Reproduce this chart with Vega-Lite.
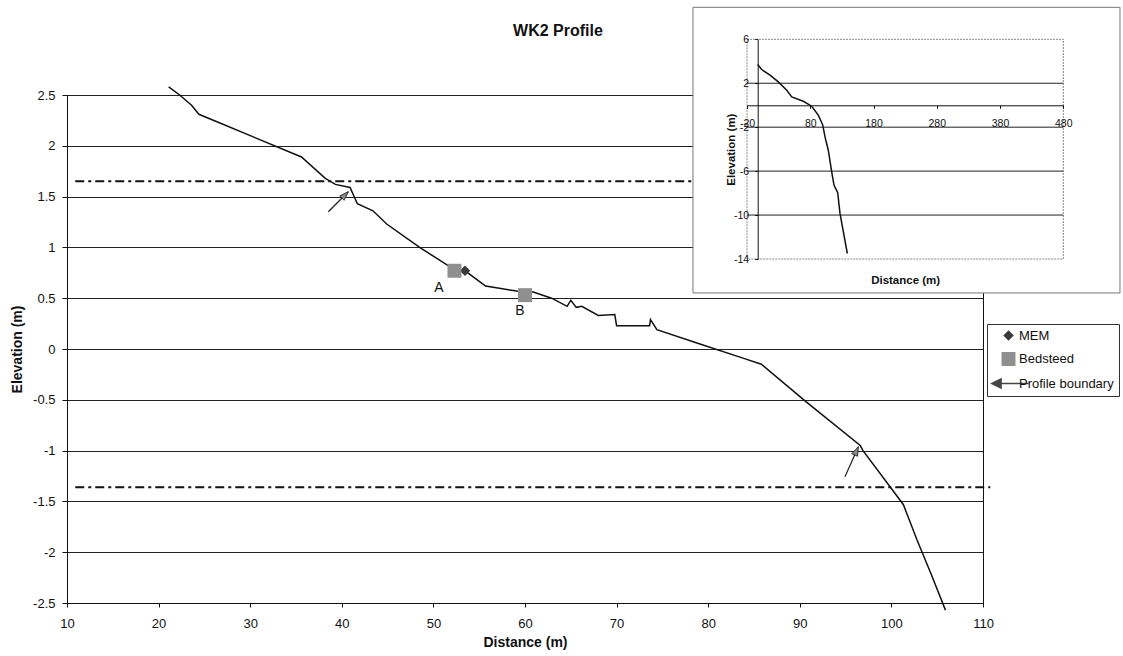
{
  "$schema": "https://vega.github.io/schema/vega-lite/v6.json",
  "width": 916,
  "height": 508,
  "autosize": {"type": "none"},
  "padding": {"left": 67, "top": 95, "right": 140, "bottom": 53},
  "background": "white",
  "config": {
    "font": "Liberation Sans",
    "view": {"stroke": "#111", "strokeWidth": 1},
    "axis": {"labelColor": "#111", "titleColor": "#111", "domainColor": "#111", "tickColor": "#111", "labelFont": "Liberation Sans", "titleFont": "Liberation Sans"}
  },
  "title": {"text": "WK2 Profile", "fontSize": 16, "fontWeight": "bold", "font": "Liberation Sans", "color": "#111", "anchor": "middle", "dx": 33, "offset": -32},
  "datasets": {
    "profile": [
      {"distance": 21.1, "elevation": 2.58}, {"distance": 22.3, "elevation": 2.5}, {"distance": 23.6, "elevation": 2.4},
      {"distance": 24.4, "elevation": 2.31}, {"distance": 35.6, "elevation": 1.89}, {"distance": 38.2, "elevation": 1.68},
      {"distance": 39.3, "elevation": 1.62}, {"distance": 40.9, "elevation": 1.59}, {"distance": 41.7, "elevation": 1.43},
      {"distance": 43.4, "elevation": 1.36}, {"distance": 44.9, "elevation": 1.23}, {"distance": 48.5, "elevation": 1.0},
      {"distance": 51.1, "elevation": 0.85}, {"distance": 52.5, "elevation": 0.77}, {"distance": 53.6, "elevation": 0.76},
      {"distance": 55.7, "elevation": 0.62}, {"distance": 59.1, "elevation": 0.57}, {"distance": 60.9, "elevation": 0.56},
      {"distance": 62.9, "elevation": 0.5}, {"distance": 64.6, "elevation": 0.42}, {"distance": 65.0, "elevation": 0.48},
      {"distance": 65.6, "elevation": 0.41}, {"distance": 66.2, "elevation": 0.42}, {"distance": 68.0, "elevation": 0.33},
      {"distance": 69.8, "elevation": 0.34}, {"distance": 70.0, "elevation": 0.23}, {"distance": 73.6, "elevation": 0.23},
      {"distance": 73.7, "elevation": 0.29}, {"distance": 74.4, "elevation": 0.19}, {"distance": 79.1, "elevation": 0.05},
      {"distance": 83.8, "elevation": -0.09}, {"distance": 85.8, "elevation": -0.15}, {"distance": 90.7, "elevation": -0.52},
      {"distance": 96.6, "elevation": -0.95}, {"distance": 96.9, "elevation": -1.0}, {"distance": 101.3, "elevation": -1.53},
      {"distance": 102.8, "elevation": -1.88}, {"distance": 104.4, "elevation": -2.23}, {"distance": 105.9, "elevation": -2.57}
    ],
    "levels": [{"level": 1.65}, {"level": -1.36}],
    "markers": [
      {"series": "MEM", "distance": 53.45, "elevation": 0.77},
      {"series": "Bedsteed", "distance": 52.3, "elevation": 0.77},
      {"series": "Bedsteed", "distance": 60.0, "elevation": 0.53}
    ],
    "labels": [
      {"label": "A", "distance": 50.6, "elevation": 0.6},
      {"label": "B", "distance": 59.45, "elevation": 0.374}
    ],
    "arrows": [
      {"id": 1, "x1": 38.53, "y1": 1.351, "x2": 40.71, "y2": 1.548},
      {"id": 2, "x1": 94.93, "y1": -1.257, "x2": 96.39, "y2": -0.962}
    ],
    "inset": [
      {"dist": -3.1, "elev": 3.7}, {"dist": 3.2, "elev": 3.25}, {"dist": 16.4, "elev": 2.73}, {"dist": 29.5, "elev": 2.12},
      {"dist": 42.8, "elev": 1.36}, {"dist": 50.7, "elev": 0.76}, {"dist": 69.0, "elev": 0.36}, {"dist": 82.3, "elev": -0.09},
      {"dist": 92.7, "elev": -0.9}, {"dist": 99.7, "elev": -1.8}, {"dist": 103.3, "elev": -2.88}, {"dist": 108.5, "elev": -4.1},
      {"dist": 113.9, "elev": -6.06}, {"dist": 117.5, "elev": -7.27}, {"dist": 123.4, "elev": -7.97}, {"dist": 127.0, "elev": -9.85},
      {"dist": 138.6, "elev": -13.5}
    ],
    "insetGrid": [{"g": 2}, {"g": -2}, {"g": -6}, {"g": -10}]
  },
  "layer": [
    {
      "layer": [
        {
          "data": {"name": "profile"},
          "mark": {"type": "line", "color": "#111", "strokeWidth": 1.5},
          "encoding": {
            "x": {
              "field": "distance", "type": "quantitative",
              "scale": {"domain": [10, 110], "nice": false, "zero": false},
              "axis": {"values": [10, 20, 30, 40, 50, 60, 70, 80, 90, 100, 110], "title": "Distance (m)", "grid": false, "tickSize": 4, "labelFontSize": 13, "labelPadding": 10, "labelFlush": false, "titleFontSize": 14, "titleFontWeight": "bold", "titleY": 39, "titleBaseline": "middle"}
            },
            "y": {
              "field": "elevation", "type": "quantitative",
              "scale": {"domain": [-2.5, 2.5], "nice": false, "zero": false},
              "axis": {"values": [-2.5, -2, -1.5, -1, -0.5, 0, 0.5, 1, 1.5, 2, 2.5], "labelExpr": "'' + datum.value", "title": "Elevation (m)", "grid": true, "gridColor": "#222", "gridWidth": 1, "tickSize": 5, "labelPadding": 7, "labelFontSize": 13, "titleFontSize": 14, "titleFontWeight": "bold", "titleX": -50, "titleBaseline": "middle"}
            }
          }
        },
        {
          "data": {"name": "levels"},
          "mark": {"type": "rule", "color": "#111", "strokeWidth": 2, "strokeDash": [9, 4, 3, 4]},
          "encoding": {
            "x": {"datum": 10.9, "type": "quantitative"},
            "x2": {"datum": 110.8},
            "y": {"field": "level", "type": "quantitative"}
          }
        },
        {
          "data": {"name": "arrows"},
          "mark": {"type": "rule", "color": "#222", "strokeWidth": 1.2},
          "encoding": {
            "x": {"field": "x1", "type": "quantitative"},
            "y": {"field": "y1", "type": "quantitative"},
            "x2": {"field": "x2"},
            "y2": {"field": "y2"}
          }
        },
        {
          "data": {"name": "arrows"},
          "transform": [{"filter": "datum.id == 1"}],
          "mark": {"type": "point", "shape": "M0,0L-0.35,1L0.35,1Z", "filled": true, "fill": "#8a8a8a", "stroke": "#222", "strokeWidth": 0.8, "opacity": 1, "size": 324, "angle": 45},
          "encoding": {
            "x": {"field": "x2", "type": "quantitative"},
            "y": {"field": "y2", "type": "quantitative"}
          }
        },
        {
          "data": {"name": "arrows"},
          "transform": [{"filter": "datum.id == 2"}],
          "mark": {"type": "point", "shape": "M0,0L-0.35,1L0.35,1Z", "filled": true, "fill": "#8a8a8a", "stroke": "#222", "strokeWidth": 0.8, "opacity": 1, "size": 324, "angle": 24},
          "encoding": {
            "x": {"field": "x2", "type": "quantitative"},
            "y": {"field": "y2", "type": "quantitative"}
          }
        },
        {
          "data": {"name": "markers"},
          "mark": {"type": "point", "filled": true, "opacity": 1, "strokeWidth": 0},
          "encoding": {
            "x": {"field": "distance", "type": "quantitative"},
            "y": {"field": "elevation", "type": "quantitative"},
            "color": {
              "field": "series", "type": "nominal",
              "scale": {"domain": ["MEM", "Bedsteed", "Profile boundary"], "range": ["#3a3a3a", "#8f8f8f", "#444444"]},
              "legend": {"title": null, "orient": "none", "legendX": 920, "legendY": 229, "strokeColor": "#333", "fillColor": "white", "padding": 5, "labelFontSize": 13, "labelFont": "Liberation Sans", "labelColor": "#111", "symbolSize": 50, "rowPadding": 9, "labelOffset": 2, "symbolOffset": 8, "symbolStrokeWidth": 0, "encode": {"symbols": {"update": {"size": {"value": 50}}}}}
            },
            "shape": {
              "field": "series", "type": "nominal",
              "scale": {"domain": ["MEM", "Bedsteed", "Profile boundary"], "range": ["diamond", "square", "M-2.2,0L-0.8,-0.7L-0.8,0.7Z M-0.8,-0.1L2.4,-0.1L2.4,0.1L-0.8,0.1Z"]},
              "legend": {"title": null, "orient": "none", "legendX": 920, "legendY": 229, "strokeColor": "#333", "fillColor": "white", "padding": 5, "labelFontSize": 13, "labelFont": "Liberation Sans", "labelColor": "#111", "symbolSize": 50, "rowPadding": 9, "labelOffset": 2, "symbolOffset": 8, "symbolStrokeWidth": 0, "encode": {"symbols": {"update": {"size": {"value": 50}}}}}
            },
            "size": {
              "field": "series", "type": "ordinal",
              "scale": {"domain": ["MEM", "Bedsteed", "Profile boundary"], "range": [110, 280, 60]},
              "legend": null
            }
          }
        },
        {
          "data": {"name": "labels"},
          "mark": {"type": "text", "fontSize": 14, "font": "Liberation Sans", "color": "#111", "align": "center", "baseline": "middle"},
          "encoding": {
            "x": {"field": "distance", "type": "quantitative"},
            "y": {"field": "elevation", "type": "quantitative"},
            "text": {"field": "label"}
          }
        }
      ]
    },
    {
      "layer": [
        {
          "data": {"values": [{}]},
          "mark": {"type": "rect", "fill": "white", "stroke": "#777", "strokeWidth": 1},
          "encoding": {
            "x": {"datum": -105.4, "type": "quantitative"},
            "x2": {"datum": 569.6},
            "y": {"datum": 8.91, "type": "quantitative"},
            "y2": {"datum": -17.09}
          }
        },
        {
          "data": {"values": [{}]},
          "mark": {"type": "rect", "fill": null, "stroke": "#888", "strokeWidth": 1, "strokeDash": [2, 1]},
          "encoding": {
            "x": {"datum": -20, "type": "quantitative"},
            "x2": {"datum": 480},
            "y": {"datum": -14, "type": "quantitative"},
            "y2": {"datum": 6}
          }
        },
        {
          "data": {"name": "insetGrid"},
          "mark": {"type": "rule", "color": "#222", "strokeWidth": 1},
          "encoding": {
            "x": {"datum": -20, "type": "quantitative"},
            "x2": {"datum": 480},
            "y": {"field": "g", "type": "quantitative"}
          }
        },
        {
          "data": {"name": "inset"},
          "mark": {"type": "line", "color": "#111", "strokeWidth": 1.5},
          "encoding": {
            "x": {
              "field": "dist", "type": "quantitative",
              "scale": {"domain": [-20, 480], "range": [680, 996.3], "nice": false, "zero": false},
              "axis": {"orient": "bottom", "offset": -497.7, "values": [-20, 80, 180, 280, 380, 480], "labelExpr": "'' + datum.value", "grid": false, "tickSize": 3, "labelPadding": 10, "labelFontSize": 10.5, "labelFlush": false, "labelOverlap": false, "title": "Distance (m)", "titleFontSize": 11.5, "titleFontWeight": "bold", "titleY": 174.7, "titleBaseline": "middle", "zindex": 1}
            },
            "y": {
              "field": "elev", "type": "quantitative",
              "scale": {"domain": [-14, 6], "range": [164, -55.7], "nice": false, "zero": false},
              "axis": {"orient": "left", "offset": -690.7, "values": [-14, -10, -6, -2, 2, 6], "labelExpr": "'' + datum.value", "grid": false, "tickSize": 3, "labelPadding": 6, "labelFontSize": 10.5, "labelOverlap": false, "title": "Elevation (m)", "titleFontSize": 11.5, "titleFontWeight": "bold", "titleX": -26, "titleBaseline": "middle", "zindex": 1}
            }
          }
        }
      ]
    }
  ],
  "resolve": {
    "scale": {"x": "independent", "y": "independent"},
    "axis": {"x": "independent", "y": "independent"}
  }
}
